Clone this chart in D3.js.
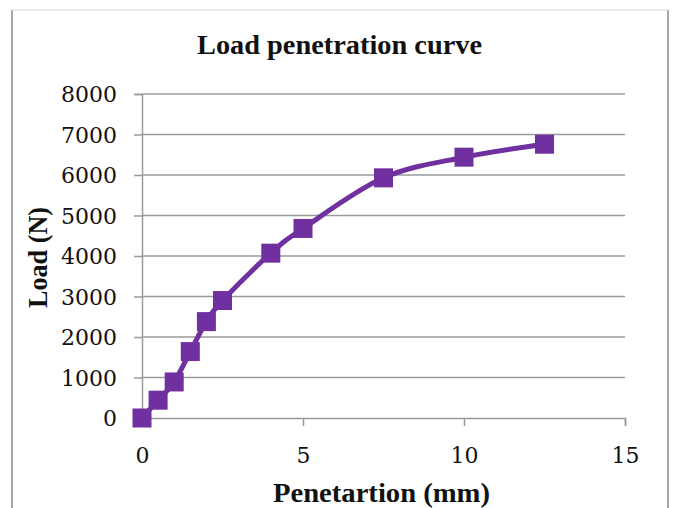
<!DOCTYPE html>
<html>
<head>
<meta charset="utf-8">
<script src="https://cdn.jsdelivr.net/npm/d3@7"></script>
<style>
  html, body { margin: 0; padding: 0; background: #fff; }
  svg { display: block; }
</style>
</head>
<body>
<svg id="chart" width="676" height="508"></svg>
<script>
// ---- data ----
const penetration = [0, 0.5, 1, 1.5, 2, 2.5, 4, 5, 7.5, 10, 12.5];
const load = [0, 440, 890, 1640, 2380, 2900, 4070, 4680, 5930, 6440, 6760];
const xTicks = [0, 5, 10, 15];
const yTicks = [0, 1000, 2000, 3000, 4000, 5000, 6000, 7000, 8000];
const chartTitle = "Load penetration curve";
const xTitle = "Penetartion (mm)";
const yTitle = "Load (N)";

const svg = d3.select("#chart");
const W = 676, H = 508;
const plot = { left: 142, right: 625, top: 94, bottom: 418 };

const x = d3.scaleLinear().domain([0, 15]).range([plot.left, plot.right]);
const y = d3.scaleLinear().domain([0, 8000]).range([plot.bottom, plot.top]);

// frame
svg.append("line").attr("x1", 12).attr("x2", 12).attr("y1", 10).attr("y2", H)
  .attr("stroke", "#8a8a8a").attr("stroke-width", 1.5);
svg.append("line").attr("x1", 668).attr("x2", 668).attr("y1", 10).attr("y2", H)
  .attr("stroke", "#8a8a8a").attr("stroke-width", 1.5);
svg.append("line").attr("x1", 12).attr("x2", 668).attr("y1", 10).attr("y2", 10)
  .attr("stroke", "#e2e2e2").attr("stroke-width", 1.5);

// gridlines
svg.append("g").selectAll("line").data(yTicks.filter(d => d > 0)).join("line")
  .attr("x1", plot.left).attr("x2", plot.right)
  .attr("y1", d => y(d)).attr("y2", d => y(d))
  .attr("stroke", "#9a9a9a").attr("stroke-width", 1.5);

// y axis
const yAxis = d3.axisLeft(y).tickValues(yTicks).tickSize(8).tickPadding(17).tickFormat(d3.format("d"));
const gy = svg.append("g").attr("transform", `translate(${plot.left},0)`).call(yAxis);
gy.select(".domain").attr("stroke", "#9a9a9a").attr("stroke-width", 1.5);
gy.selectAll(".tick line").attr("stroke", "#9a9a9a").attr("stroke-width", 1.5);
gy.selectAll(".tick text").attr("font-family", "'DejaVu Serif', serif").attr("font-size", 22)
  .attr("fill", "#111").attr("dy", "0.36em");

// x axis
const xAxis = d3.axisBottom(x).tickValues(xTicks).tickSize(8).tickPadding(21).tickFormat(d3.format("d"));
const gx = svg.append("g").attr("transform", `translate(0,${plot.bottom})`).call(xAxis);
gx.select(".domain").attr("stroke", "#9a9a9a").attr("stroke-width", 1.5);
gx.selectAll(".tick line").attr("stroke", "#9a9a9a").attr("stroke-width", 1.5);
gx.selectAll(".tick text").attr("font-family", "'DejaVu Serif', serif").attr("font-size", 22)
  .attr("fill", "#111");

// titles
const titleFont = "'Liberation Serif', 'Times New Roman', serif";
svg.append("text").attr("x", 339.5).attr("y", 54).attr("text-anchor", "middle")
  .attr("font-family", titleFont).attr("font-weight", "bold").attr("font-size", 27)
  .attr("textLength", 285).attr("lengthAdjust", "spacingAndGlyphs")
  .attr("fill", "#111").text(chartTitle);
svg.append("text").attr("x", 381.5).attr("y", 502).attr("text-anchor", "middle")
  .attr("font-family", titleFont).attr("font-weight", "bold").attr("font-size", 27)
  .attr("textLength", 217).attr("lengthAdjust", "spacingAndGlyphs")
  .attr("fill", "#111").text(xTitle);
svg.append("text").attr("transform", "translate(47,257.5) rotate(-90)").attr("text-anchor", "middle")
  .attr("font-family", titleFont).attr("font-weight", "bold").attr("font-size", 27)
  .attr("textLength", 101).attr("lengthAdjust", "spacingAndGlyphs")
  .attr("fill", "#111").text(yTitle);

// series
const pts = penetration.map((p, i) => [p, load[i]]);
const line = d3.line().x(d => x(d[0])).y(d => y(d[1])).curve(d3.curveCardinal.tension(0));
svg.append("path").datum(pts).attr("d", line)
  .attr("fill", "none").attr("stroke", "#7030A0").attr("stroke-width", 5)
  .attr("stroke-linejoin", "round");

const ms = 19;
svg.append("g").selectAll("rect").data(pts).join("rect")
  .attr("x", d => x(d[0]) - ms / 2).attr("y", d => y(d[1]) - ms / 2)
  .attr("width", ms).attr("height", ms).attr("fill", "#7030A0");
</script>
</body>
</html>
